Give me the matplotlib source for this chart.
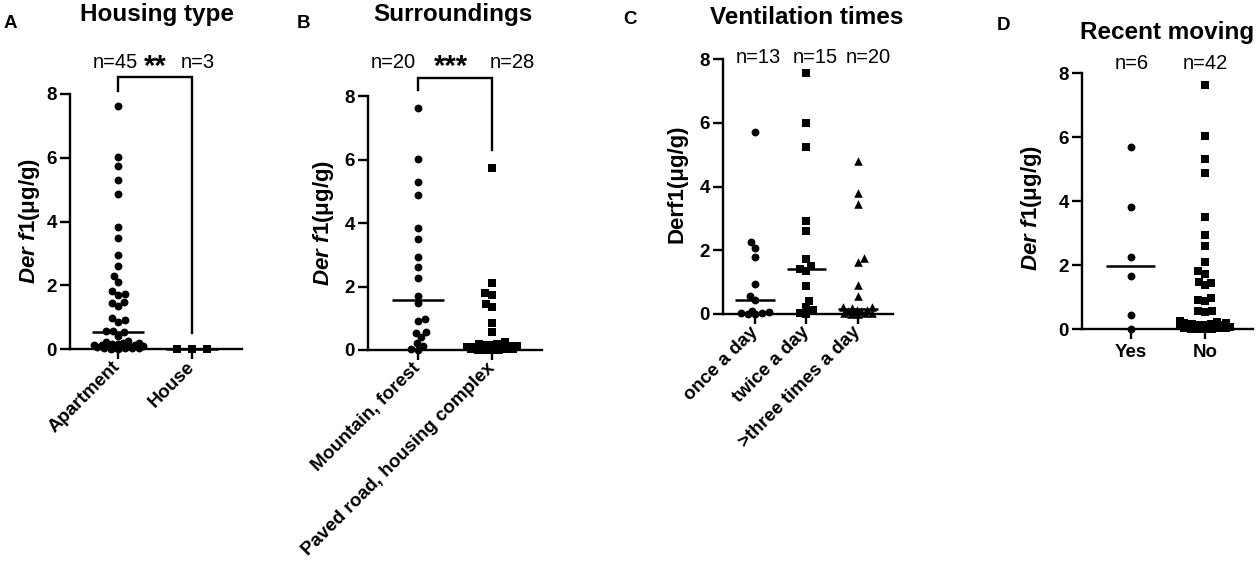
import numpy as np
import matplotlib
matplotlib.use('Agg')
import matplotlib.pyplot as plt

plt.rcParams['font.family'] = ['Liberation Sans', 'DejaVu Sans']
plt.rcParams['mathtext.fontset'] = 'custom'
plt.rcParams['mathtext.it'] = 'Liberation Sans:italic:bold'
plt.rcParams['mathtext.rm'] = 'Liberation Sans:bold'
plt.rcParams['mathtext.bf'] = 'Liberation Sans:bold'

# ---------------- data ----------------
housing_labels = ['Apartment', 'House']
apartment = [7.63, 6.02, 5.74, 5.30, 4.87, 3.83, 3.49, 2.94, 2.60, 2.28,
             2.10, 1.81, 1.73, 1.70, 1.47, 1.45, 1.36, 0.97, 0.92, 0.86,
             0.56, 0.56, 0.52, 0.40, 0.26, 0.23, 0.20, 0.18, 0.16, 0.15,
             0.14, 0.14, 0.12, 0.10, 0.09, 0.08, 0.07, 0.06, 0.05, 0.04,
             0.03, 0.02, 0.02, 0.01, 0.0]
house = [0.0, 0.0, 0.0]

surround_labels = ['Mountain, forest', 'Paved road, housing complex']
mountain = [7.63, 6.02, 5.30, 4.87, 3.83, 3.49, 2.94, 2.60, 2.28, 1.70,
            1.47, 0.97, 0.92, 0.56, 0.52, 0.40, 0.23, 0.14, 0.02, 0.0]
paved = [5.74, 2.10, 1.81, 1.73, 1.45, 1.36, 0.86, 0.56, 0.26, 0.20,
         0.18, 0.16, 0.15, 0.14, 0.12, 0.10, 0.09, 0.08, 0.07, 0.06,
         0.05, 0.04, 0.03, 0.02, 0.01, 0.0, 0.0, 0.0]

vent_labels = ['once a day', 'twice a day', '>three times a day']
once = [5.72, 2.26, 2.07, 1.79, 0.95, 0.57, 0.43, 0.08, 0.07, 0.03, 0.02, 0.01, 0.0]
twice = [7.57, 5.98, 5.25, 2.92, 2.61, 1.73, 1.51, 1.41, 1.34, 0.87, 0.42, 0.22, 0.11, 0.03, 0.0]
three = [4.80, 3.79, 3.45, 1.75, 1.62, 0.90, 0.55, 0.22, 0.21, 0.20, 0.14, 0.13,
         0.10, 0.08, 0.06, 0.04, 0.03, 0.02, 0.01, 0.0]

moving_labels = ['Yes', 'No']
moving_yes = [5.70, 3.81, 2.26, 1.66, 0.43, 0.0]
moving_no = [7.63, 6.02, 5.30, 4.87, 3.49, 2.94, 2.60, 2.10, 1.81, 1.73,
             1.47, 1.45, 1.36, 0.97, 0.92, 0.86, 0.56, 0.56, 0.52, 0.26,
             0.23, 0.20, 0.18, 0.16, 0.15, 0.14, 0.14, 0.12, 0.10, 0.09,
             0.08, 0.07, 0.06, 0.05, 0.04, 0.03, 0.02, 0.02, 0.01, 0.0,
             0.0, 0.0]

yticks = [0, 2, 4, 6, 8]

# ---------------- layout ----------------
W, H = 1259, 576
fig = plt.figure(figsize=(W / 100, H / 100), dpi=100)


def add_axes_px(left, right, y0, y8, xlim):
    ax = fig.add_axes([left / W, (H - y0) / H, (right - left) / W, (y0 - y8) / H])
    ax.set_xlim(*xlim)
    ax.set_ylim(0, 8)
    for s in ['top', 'right']:
        ax.spines[s].set_visible(False)
    for s in ['left', 'bottom']:
        ax.spines[s].set_linewidth(1.7)
    ax.tick_params(axis='both', width=1.7, length=7.5, direction='out', color='black')
    ax.set_yticks(yticks)
    ax.set_yticklabels([str(v) for v in yticks], fontsize=13.5, fontweight='bold')
    ax.tick_params(axis='y', pad=2)
    ax.patch.set_alpha(0)
    return ax


def swarm_x(ax, xc, vals, diam_px, max_half_px):
    p0 = ax.transData.transform((0, 0))
    p1 = ax.transData.transform((1, 1))
    sx = p1[0] - p0[0]
    sy = p1[1] - p0[1]
    ys = np.asarray(vals, dtype=float) * sy
    order = np.argsort(ys, kind='stable')
    placed = []
    xs = np.zeros(len(ys))
    flip = 1
    for i in order:
        y = ys[i]
        d = diam_px
        while True:
            cands = [0.0]
            for (px, py) in placed:
                dy = abs(py - y)
                if dy < d:
                    w = np.sqrt(d * d - dy * dy)
                    cands += [px - w, px + w]
            cands = sorted(cands, key=lambda c: (round(abs(c), 3), -flip * c))
            found = None
            for c in cands:
                if abs(c) > max_half_px + 1e-9:
                    continue
                if all((c - px) ** 2 + (y - py) ** 2 >= d * d - 1e-6 for px, py in placed):
                    found = c
                    break
            if found is not None:
                break
            d *= 0.85
        flip = -flip
        xs[i] = found
        placed.append((found, y))
    return xc + xs / sx


def draw_group(ax, xc, vals, marker, size, half_px, med_half, diam=7.0):
    xs = swarm_x(ax, xc, vals, diam, half_px)
    ax.scatter(xs, vals, marker=marker, s=size, c='black', linewidths=0,
               clip_on=False, zorder=3)
    med = float(np.median(vals))
    ax.plot([xc - med_half, xc + med_half], [med, med], color='black', lw=1.8,
            solid_capstyle='butt', zorder=4, clip_on=False)


def fig_text(xp, yp, s, **kw):
    fig.text(xp / W, 1 - yp / H, s, **kw)


CIRCLE, SQUARE, TRI = 32, 28, 38

# ---- Panel A ----
axA = add_axes_px(70, 242, 349, 94, (-0.649, 1.676))
draw_group(axA, 0, apartment, 'o', CIRCLE, 25, 0.35)
draw_group(axA, 1, house, 's', SQUARE, 25, 0.35, diam=15)
axA.set_xticks([0, 1])
axA.set_xticklabels(housing_labels, rotation=45, ha='right', va='center',
                    rotation_mode='anchor', fontsize=13.5, fontweight='bold')
axA.plot([0, 0, 1, 1], [8.09, 8.53, 8.53, 0.5], color='black', lw=1.7,
         clip_on=False, solid_joinstyle='miter')
axA.text(-0.04, 9.0, 'n=45', ha='center', va='center', fontsize=14.5)
axA.text(1.08, 9.0, 'n=3', ha='center', va='center', fontsize=14.5)
axA.text(0.5, 8.6, '**', ha='center', va='baseline', fontsize=21, fontweight='bold')

# ---- Panel B ----
axB = add_axes_px(368, 542, 350, 96, (-0.676, 1.676))
draw_group(axB, 0, mountain, 'o', CIRCLE, 25, 0.35)
draw_group(axB, 1, paved, 's', SQUARE, 25, 0.35)
axB.set_xticks([0, 1])
axB.set_xticklabels(surround_labels, rotation=45, ha='right', va='center',
                    rotation_mode='anchor', fontsize=13.5, fontweight='bold')
axB.plot([0, 0, 1, 1], [8.19, 8.57, 8.57, 6.3], color='black', lw=1.7,
         clip_on=False, solid_joinstyle='miter')
axB.text(-0.34, 9.04, 'n=20', ha='center', va='center', fontsize=14.5)
axB.text(1.28, 9.04, 'n=28', ha='center', va='center', fontsize=14.5)
axB.text(0.45, 8.65, '***', ha='center', va='baseline', fontsize=21, fontweight='bold')

# ---- Panel C ----
axC = add_axes_px(723, 893, 314, 59, (-0.62, 2.68))
draw_group(axC, 0, once, 'o', CIRCLE, 15, 0.38)
draw_group(axC, 1, twice, 's', SQUARE, 15, 0.38)
draw_group(axC, 2, three, '^', TRI, 15, 0.38)
axC.set_xticks([0, 1, 2])
axC.set_xticklabels(vent_labels, rotation=45, ha='right', va='center',
                    rotation_mode='anchor', fontsize=13.5, fontweight='bold')
for xp, lab in zip([0.06, 1.17, 2.19], ['n=13', 'n=15', 'n=20']):
    axC.text(xp, 8.06, lab, ha='center', va='center', fontsize=14.5)

# ---- Panel D ----
axD = add_axes_px(1082, 1253, 329, 73, (-0.66, 1.65))
draw_group(axD, 0, moving_yes, 'o', CIRCLE, 25, 0.33)
draw_group(axD, 1, moving_no, 's', SQUARE, 25, 0.33)
axD.set_xticks([0, 1])
axD.set_xticklabels(moving_labels, fontsize=13.5, fontweight='bold')
for xp, lab in zip([0.01, 1.0], ['n=6', 'n=42']):
    axD.text(xp, 8.3, lab, ha='center', va='center', fontsize=14.5)

# ---- y labels ----
ylab_it = r'$\mathit{Der\ f1}$(μg/g)'
fig_text(30, 221, ylab_it, rotation=90, ha='center', va='center', fontsize=16, fontweight='bold')
fig_text(323, 223, ylab_it, rotation=90, ha='center', va='center', fontsize=16, fontweight='bold')
fig_text(677, 184, 'Derf1(μg/g)', rotation=90, ha='center', va='center', fontsize=16, fontweight='bold')
fig_text(1032, 208, ylab_it, rotation=90, ha='center', va='center', fontsize=16, fontweight='bold')

# ---- titles & panel letters ----
for xp, yp, t in [(157, 15, 'Housing type'), (453, 15, 'Surroundings'),
                  (807, 18, 'Ventilation times'), (1167, 33, 'Recent moving')]:
    fig_text(xp, yp, t, ha='center', va='center', fontsize=17.5, fontweight='bold')
for xp, yp, t in [(10, 23, 'A'), (303, 23, 'B'), (630, 20, 'C'), (1004, 25, 'D')]:
    fig_text(xp, yp, t, ha='center', va='center', fontsize=13.5, fontweight='bold')

fig.savefig('out.png', dpi=100)
